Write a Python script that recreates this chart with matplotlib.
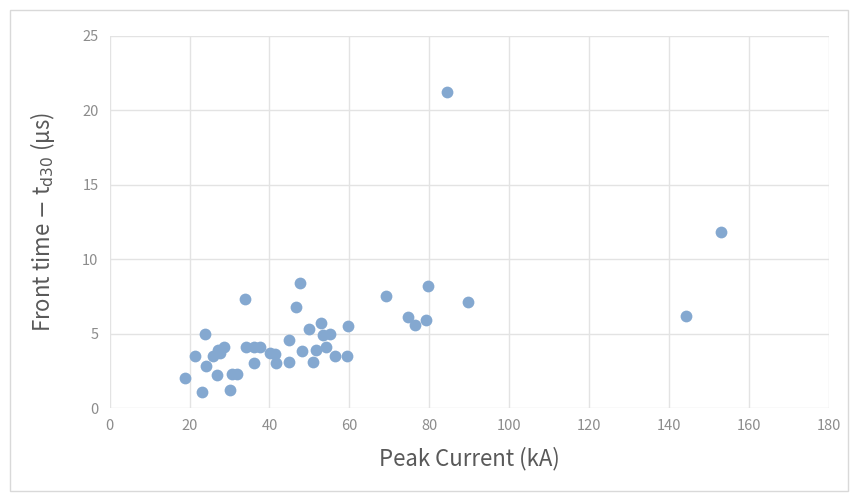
import matplotlib
matplotlib.use("Agg")
import matplotlib.pyplot as plt
from matplotlib.patches import Rectangle

# peak current (kA) and front time t_d30 (us)
peak_current = [18.8, 21.3, 23.8, 23.0, 24.2, 26.9, 25.9, 27.1, 28.5, 27.5,
                30.0, 30.5, 31.9, 33.8, 34.2, 36.1, 37.6, 36.1, 40.1, 41.3,
                41.6, 44.9, 44.9, 46.6, 47.6, 48.2, 49.9, 50.9, 51.7, 53.0,
                53.4, 55.1, 54.1, 56.3, 59.3, 59.7, 69.1, 74.7, 76.4, 79.3,
                79.7, 89.7, 84.4, 144.3, 153.0]
front_time = [2.0, 3.5, 5.0, 1.1, 2.8, 2.2, 3.5, 3.9, 4.1, 3.7,
              1.2, 2.3, 2.3, 7.3, 4.1, 4.1, 4.1, 3.0, 3.7, 3.6,
              3.0, 3.1, 4.6, 6.8, 8.4, 3.8, 5.3, 3.1, 3.9, 5.7,
              4.9, 5.0, 4.1, 3.5, 3.5, 5.5, 7.5, 6.1, 5.6, 5.9,
              8.2, 7.1, 21.2, 6.2, 11.8]

xticks = [0, 20, 40, 60, 80, 100, 120, 140, 160, 180]
yticks = [0, 5, 10, 15, 20, 25]

plt.rcParams['font.family'] = ['Noto Sans CJK JP', 'DejaVu Sans']

fig = plt.figure(figsize=(8.57, 4.97), dpi=100)
fig.patches.append(Rectangle((0.012, 0.012), 0.978, 0.968, transform=fig.transFigure,
                             fill=False, edgecolor='#d9d9d9', linewidth=1))
ax = fig.add_axes([0.128, 0.179, 0.839, 0.749])

ax.scatter(peak_current, front_time, s=72, color='#84a8d0', zorder=3, linewidths=0)

ax.set_xlim(0, 180)
ax.set_ylim(0, 25)
ax.set_xticks(xticks)
ax.set_yticks(yticks)
ax.grid(True, color='#e3e3e3', linewidth=1)
for s in ax.spines.values():
    s.set_visible(False)
ax.tick_params(length=0, labelsize=10.5, colors='#8c8c8c', pad=8)

ax.set_xlabel('Peak Current (kA)', fontsize=16, color='#595959', labelpad=10)
ax.set_ylabel(r'Front time $-$ t$_{\mathrm{d30}}$ (μs)', fontsize=16, color='#595959',
              labelpad=18)

fig.savefig('out.png', dpi=100)
